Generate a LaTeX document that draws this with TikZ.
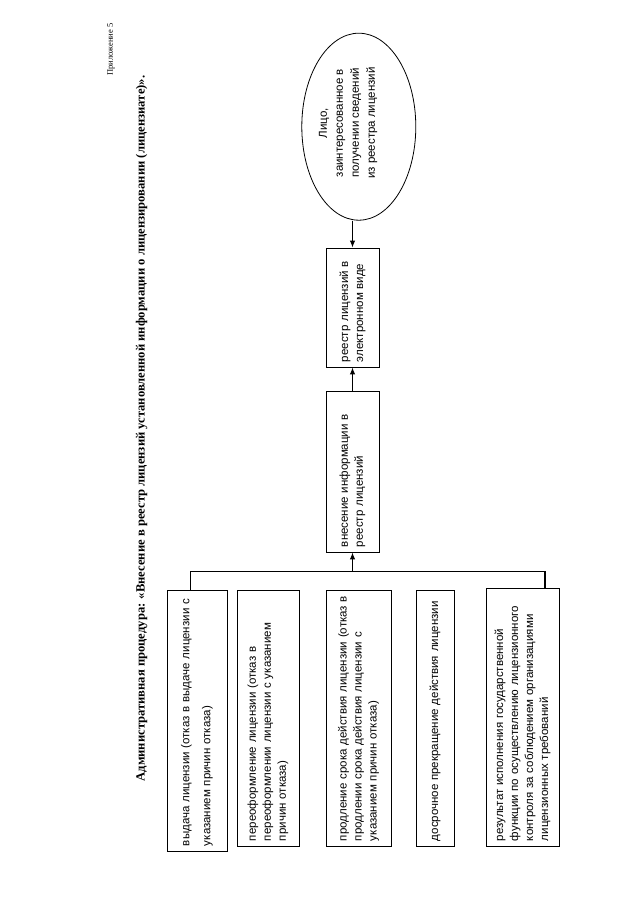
\documentclass[tikz,border=0pt]{standalone}
\usepackage{fontspec}
\setmainfont{Liberation Serif}
\newfontfamily\boxfont{Liberation Sans}
\usetikzlibrary{arrows.meta,shapes.geometric}
\tikzset{
  rbox/.style={draw, line width=0.8pt, rotate=90, inner xsep=5pt, inner ysep=2pt,
    align=left, font=\boxfont\fontsize{11.5}{15}\selectfont},
  conn/.style={line width=1.1pt},
  arr/.style={line width=1.1pt, -{Latex[length=7pt,width=5.5pt]}}
}
\begin{document}
\begin{tikzpicture}[x=1pt,y=-1pt]
\fill[white] (0,0) rectangle (640,904);
\useasboundingbox (0,0) rectangle (640,904);

\node[rotate=90, font=\fontsize{8.5}{10}\selectfont] (app) at (111,49.5) {Приложение 5};
\node[rotate=90, font=\bfseries\fontsize{12.6}{15}\selectfont] (title) at (141.5,428.5)
  {Административная процедура: «Внесение в реестр лицензий установленной информации о лицензировании (лицензиате)».};

\node[rbox, minimum width=261, minimum height=60, text width=251, font=\boxfont\fontsize{11.5}{21}\selectfont] (b1) at (197,720.5)
  {выдача лицензии (отказ в выдаче лицензии с\\указанием причин отказа)};
\node[rbox, minimum width=256, minimum height=62, text width=246] (b2) at (268,718)
  {переоформление лицензии (отказ в\\переоформлении лицензии с указанием\\причин отказа)};
\node[rbox, minimum width=256, minimum height=65, text width=246] (b3) at (358.5,718)
  {продление срока действия лицензии (отказ в\\продлении срока действия лицензии с\\указанием причин отказа)};
\node[rbox, minimum width=256, minimum height=38, text width=246] (b4) at (435,718)
  {досрочное прекращение действия лицензии};
\node[rbox, minimum width=258, minimum height=73, text width=248] (b5) at (522.5,717)
  {результат исполнения государственной\\функции по осуществлению лицензионного\\контроля за соблюдением организациями\\лицензионных требований};

\node[rbox, minimum width=161, minimum height=53, text width=151] (vn) at (352.5,471.5)
  {внесение информации в\\реестр лицензий};
\node[rbox, minimum width=119, minimum height=53, text width=109] (reg) at (352.5,307.5)
  {реестр лицензий в\\электронном виде};

\node[draw, ellipse, line width=0.8pt, minimum width=114, minimum height=187, inner sep=0pt] (ell) at (358.8,126.7) {};
\node[rotate=90, align=center, font=\boxfont\fontsize{11.5}{16}\selectfont] (elltext) at (348,123)
  {Лицо,\\заинтересованное в\\получении сведений\\из реестра лицензий};

\coordinate (bl) at (190.7,571.7);
\coordinate (br) at (545,571.7);
\coordinate (bj) at (352.5,571.7);
\draw[conn] (b1.east -| bl) -- (bl) -- (br) -- (b5.east -| br);
\draw[arr] (bj) -- (vn.west);
\draw[arr] (vn.east) -- (reg.west);
\draw[arr] (ell.south -| reg.east) -- (reg.east);
\end{tikzpicture}
\end{document}
